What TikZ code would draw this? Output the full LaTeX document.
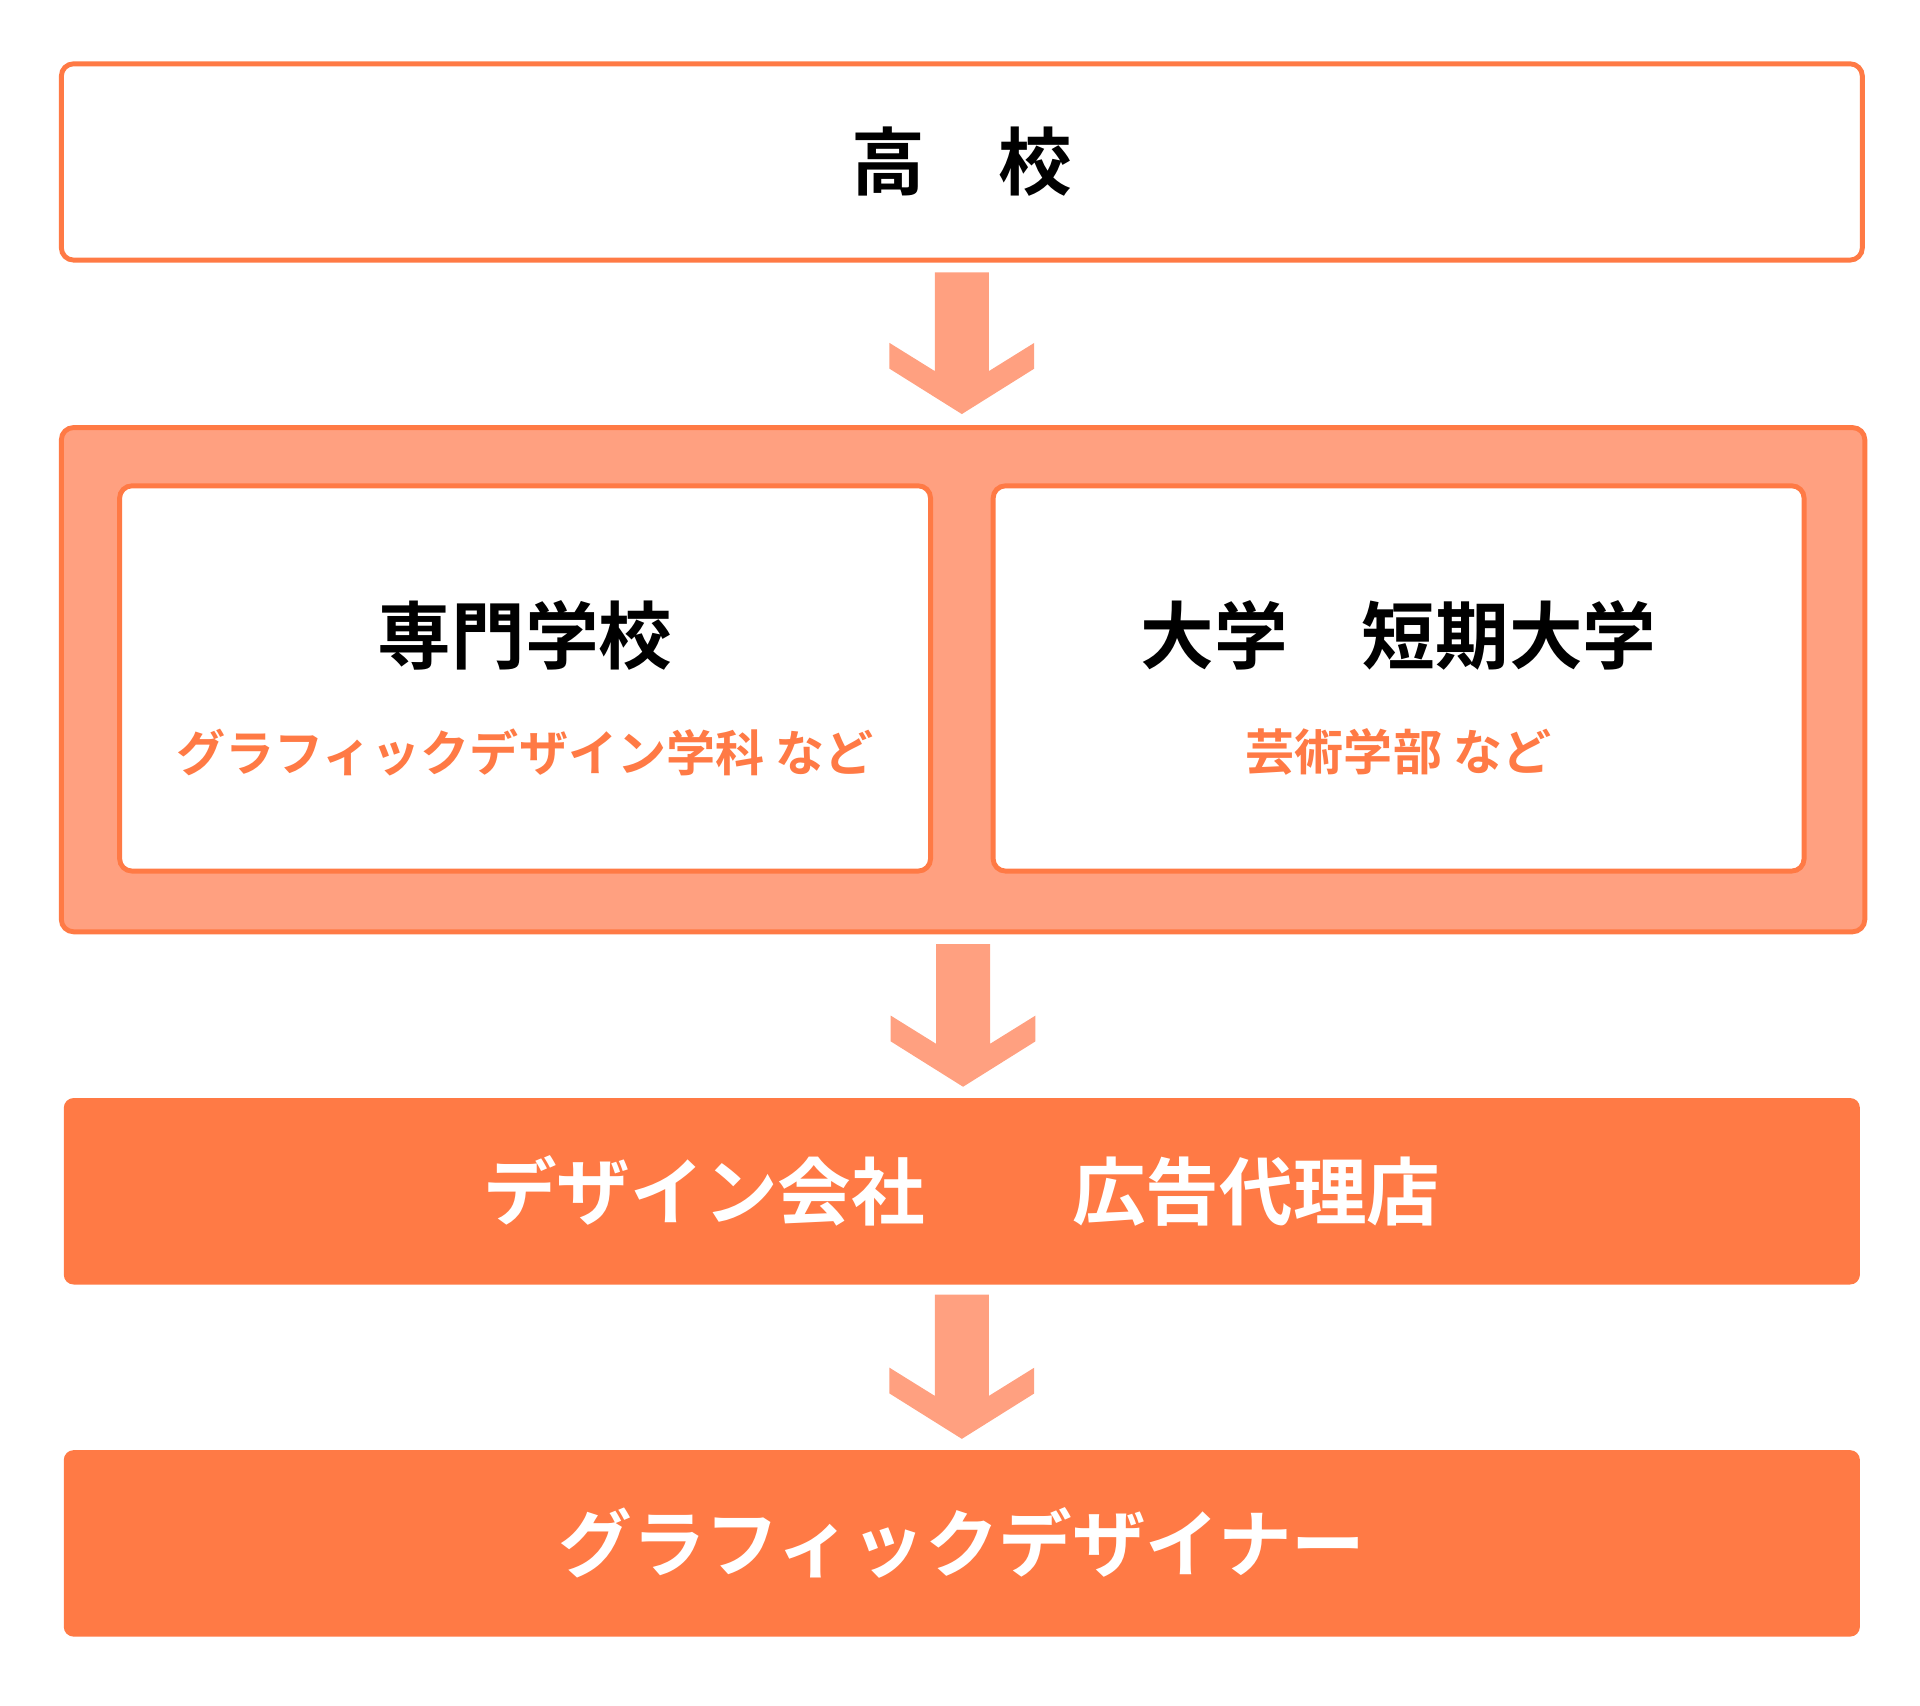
\documentclass[tikz,border=0pt]{standalone}
\usepackage{fontspec}
\setmainfont{Noto Sans CJK JP}[BoldFont={* Bold}]
\usetikzlibrary{calc}
\definecolor{linec}{HTML}{FF7A45}
\definecolor{arrowc}{HTML}{FFA080}
\tikzset{
  whitebox/.style={draw=linec, line width=4pt, fill=white, rounded corners=10pt, inner sep=0pt},
  fullbox/.style={fill=linec, rounded corners=8pt, inner sep=0pt, text=white, font=\bfseries\fontsize{60}{60}\selectfont},
  titletext/.style={font=\bfseries\fontsize{60}{60}\selectfont},
  subtext/.style={text=linec, font=\bfseries\fontsize{40}{40}\selectfont}
}
% arrow from the bottom of one box to the top of the next
\newcommand{\flowarrow}[2]{%
  \path let \p1=(#1.south), \p2=(#2.north) in [fill=arrowc]
    (\x1-22pt,\y1-8pt) -- (\x1+22pt,\y1-8pt) -- (\x1+22pt,\y2+44pt)
    -- (\x1+59pt,\y2+67pt) -- (\x1+59pt,\y2+46pt) -- (\x1,\y2+9pt)
    -- (\x1-59pt,\y2+46pt) -- (\x1-59pt,\y2+67pt) -- (\x1-22pt,\y2+44pt) -- cycle;}
\begin{document}
\begin{tikzpicture}[x=1pt,y=-1pt]
  \useasboundingbox (0,0) rectangle (1565,1390);

  \node[whitebox, minimum width=1468pt, minimum height=160pt, titletext] (highschool) at (784,132) {高　校};

  \node[whitebox, fill=arrowc, minimum width=1470pt, minimum height=411pt] (school) at (785,554) {};
  \node[whitebox, minimum width=661pt, minimum height=314pt] (senmon) at (428,553) {};
  \node[whitebox, minimum width=661pt, minimum height=314pt] (daigaku) at (1140,553) {};
  \node[titletext] (senmontitle) at (428,518) {専門学校};
  \node[subtext] (senmonsub) at (428,613) {グラフィックデザイン学科 など};
  \node[titletext] (daigakutitle) at (1140,518) {大学　短期大学};
  \node[subtext] (daigakusub) at (1140,613) {芸術学部 など};

  \node[fullbox, minimum width=1464pt, minimum height=152pt] (company) at (784,971) {デザイン会社　　広告代理店};
  \node[fullbox, minimum width=1464pt, minimum height=152pt] (designer) at (784,1258) {グラフィックデザイナー};

  \flowarrow{highschool}{school}
  \flowarrow{school}{company}
  \flowarrow{company}{designer}
\end{tikzpicture}
\end{document}
